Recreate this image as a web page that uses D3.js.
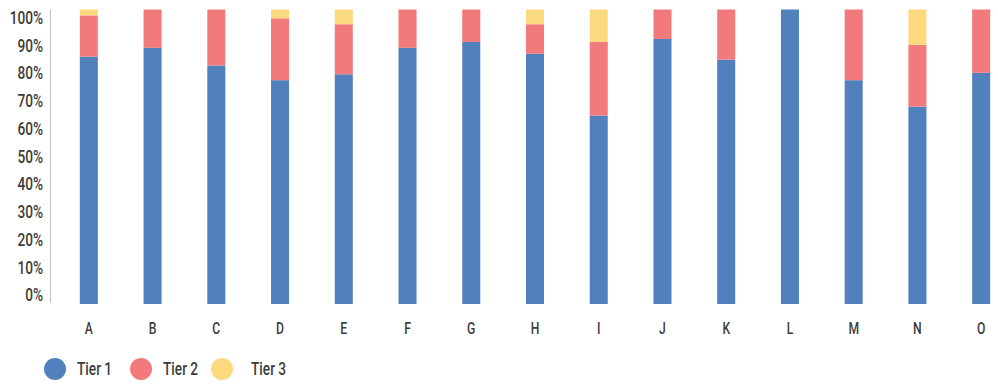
<!DOCTYPE html>
<html>
<head>
<meta charset="utf-8">
<script src="https://cdn.jsdelivr.net/npm/d3@7/dist/d3.min.js"></script>
<style>
  html, body { margin: 0; padding: 0; background: #fff; }
  svg { display: block; }
  text { font-family: Roboto, "Noto Sans", sans-serif; font-weight: 500; }
</style>
</head>
<body>
<svg id="chart" width="998" height="384"></svg>
<script>
// Categories and share of each tier (percent of total)
const categories = ["A","B","C","D","E","F","G","H","I","J","K","L","M","N","O"];
const tier1 = [84, 87, 81, 76, 78, 87, 89, 85, 64, 90, 83, 100, 76, 67, 78.5];
const tier2 = [14, 13, 19, 21, 17, 13, 11, 10, 25, 10, 17, 0, 24, 21, 21.5];
const tier3 = [2, 0, 0, 3, 5, 0, 0, 5, 11, 0, 0, 0, 0, 12, 0];
const seriesNames = ["Tier 1", "Tier 2", "Tier 3"];
const colors = ["#5181bd", "#f27a7c", "#fcd97f"];
const yTicks = [0, 10, 20, 30, 40, 50, 60, 70, 80, 90, 100];

const rows = categories.map((c, i) => ({cat: c, "Tier 1": tier1[i], "Tier 2": tier2[i], "Tier 3": tier3[i]}));
const stacked = d3.stack().keys(seriesNames)(rows);

const svg = d3.select("#chart");
const narrow = "scale(0.76,1)"; // condensed look for all labels

const x = d3.scaleBand().domain(categories).range([57, 1013]).paddingInner(0.717).paddingOuter(0.358);
const y = d3.scaleLinear().domain([0, 100]).range([304, 9.5]);
// tick labels sit on their own slightly tighter scale
const yLabel = d3.scaleLinear().domain([0, 100]).range([295, 17.5]);

// bars
svg.append("g").selectAll("g")
  .data(stacked)
  .join("g")
    .attr("fill", (d, i) => colors[i])
  .selectAll("rect")
  .data(d => d)
  .join("rect")
    .attr("x", d => x(d.data.cat))
    .attr("width", x.bandwidth())
    .attr("y", d => y(d[1]))
    .attr("height", d => Math.max(0, y(d[0]) - y(d[1])));

// y axis line
svg.append("line")
  .attr("x1", 50.5).attr("x2", 50.5)
  .attr("y1", y(100)).attr("y2", 303)
  .attr("stroke", "#bfbfbf").attr("stroke-width", 1);

// y tick labels
const yAxis = svg.append("g")
  .attr("transform", "translate(43,0)")
  .call(d3.axisLeft(yLabel).tickValues(yTicks).tickFormat(d => d + "%").tickSize(0).tickPadding(0));
yAxis.select(".domain").remove();
yAxis.selectAll("text")
  .attr("font-family", null)
  .attr("font-size", 18)
  .attr("transform", narrow)
  .attr("fill", "#3d3d3d");

// x category labels
const xAxis = svg.append("g")
  .attr("transform", "translate(0,334)")
  .call(d3.axisBottom(x).tickSize(0).tickPadding(0));
xAxis.select(".domain").remove();
xAxis.selectAll("text")
  .attr("font-family", null)
  .attr("font-size", 16)
  .attr("dy", 0)
  .attr("transform", narrow)
  .attr("fill", "#3d3d3d");

// legend
const legendX = [55, 141, 222];
const legend = svg.append("g").selectAll("g")
  .data(seriesNames)
  .join("g")
    .attr("transform", (d, i) => `translate(${legendX[i]},369)`);
legend.append("circle").attr("r", 11).attr("fill", (d, i) => colors[i]);
legend.append("text")
  .attr("transform", (d, i) => `translate(${[22, 22, 29][i]},0) ${narrow}`)
  .attr("dy", "0.35em")
  .attr("font-size", 18)
  .attr("fill", "#3d3d3d")
  .text(d => d);
</script>
</body>
</html>
